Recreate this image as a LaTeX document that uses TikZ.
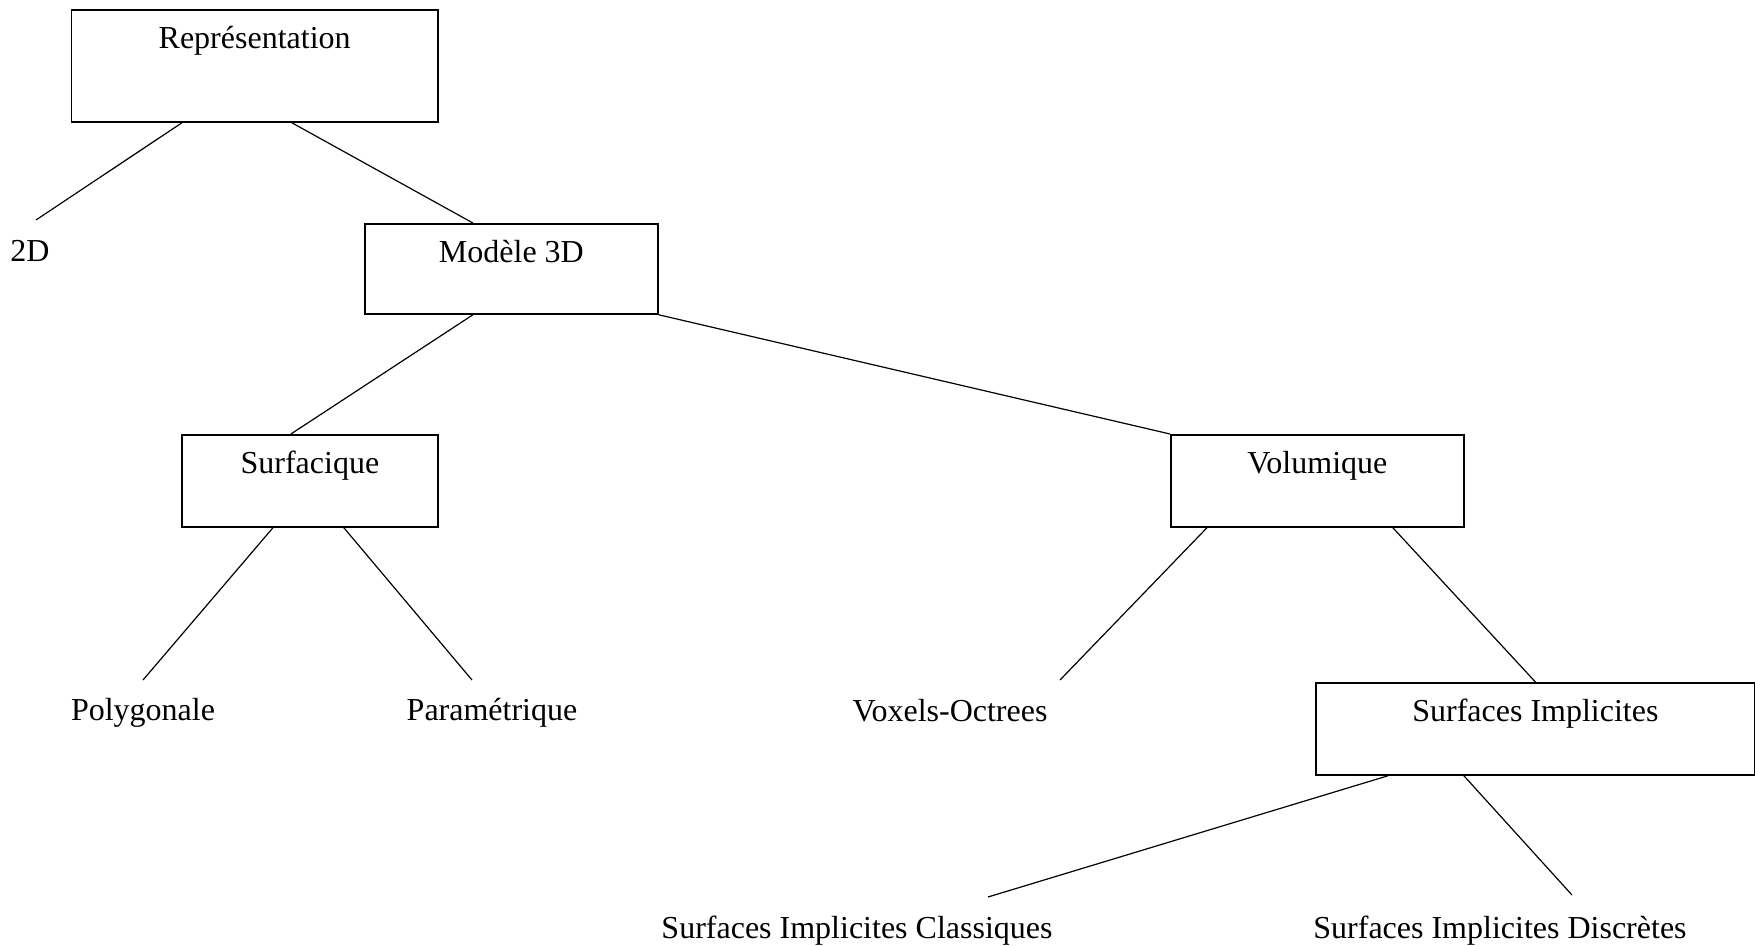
\documentclass[tikz,border=0pt]{standalone}
\usepackage{fontspec}
\setmainfont{Liberation Serif}
\tikzset{
  box/.style  = {draw, line width=0.9pt, inner sep=0pt, anchor=north west,
                 text height=19.25pt},
  leaf/.style = {inner sep=0pt, anchor=base},
  link/.style = {line width=0.6pt},
}
\begin{document}
\begin{tikzpicture}[x=0.5pt,y=-0.5pt,font=\fontsize{16pt}{19pt}\selectfont]
\useasboundingbox (0,0) rectangle (1755,946);
\node[box,minimum width=183.25pt,text depth=36.75pt] (rep)   at (70.5,9)  {Représentation};
\node[box,minimum width=146.5pt,text depth=25.75pt]  (model) at (364,223)  {Modèle 3D};
\node[box,minimum width=128pt,text depth=26.75pt]    (surf)  at (181,434)  {Surfacique};
\node[box,minimum width=146.5pt,text depth=26.75pt]  (vol)   at (1170,434) {Volumique};
\node[box,minimum width=219.5pt,text depth=26.75pt]  (simp)  at (1315,682) {Surfaces Implicites};

\node[leaf] (twoD)     at (30,261.5)    {2D};
\node[leaf] (poly)     at (143,720)     {Polygonale};
\node[leaf] (param)    at (492,720)     {Paramétrique};
\node[leaf] (voxels)   at (950,721)     {Voxels-Octrees};
\node[leaf] (classic)  at (857,938.5)   {Surfaces Implicites Classiques};
\node[leaf] (discrete) at (1500,938.5)  {Surfaces Implicites Discrètes};

\draw[link] ([shift={(-72.75,0)}]rep.south) -- ([shift={(6,-41.5)}]twoD.base);
\draw[link] ([shift={(37.25,0)}]rep.south) -- ([shift={(-38.5,0)}]model.north);
\draw[link] ([shift={(-38.5,0)}]model.south) -- ([shift={(-19,0)}]surf.north);
\draw[link] (model.south east) -- (vol.north west);
\draw[link] ([shift={(-37,0)}]surf.south) -- ([shift={(0,-40)}]poly.base);
\draw[link] ([shift={(34,0)}]surf.south) -- ([shift={(-20,-40)}]param.base);
\draw[link] ([shift={(-110.5,0)}]vol.south) -- ([shift={(110,-41)}]voxels.base);
\draw[link] ([shift={(75.5,0)}]vol.south) -- (simp.north);
\draw[link] ([shift={(-147.5,0)}]simp.south) -- ([shift={(131,-41.5)}]classic.base);
\draw[link] ([shift={(-71.5,0)}]simp.south) -- ([shift={(72,-43.5)}]discrete.base);
\end{tikzpicture}
\end{document}
